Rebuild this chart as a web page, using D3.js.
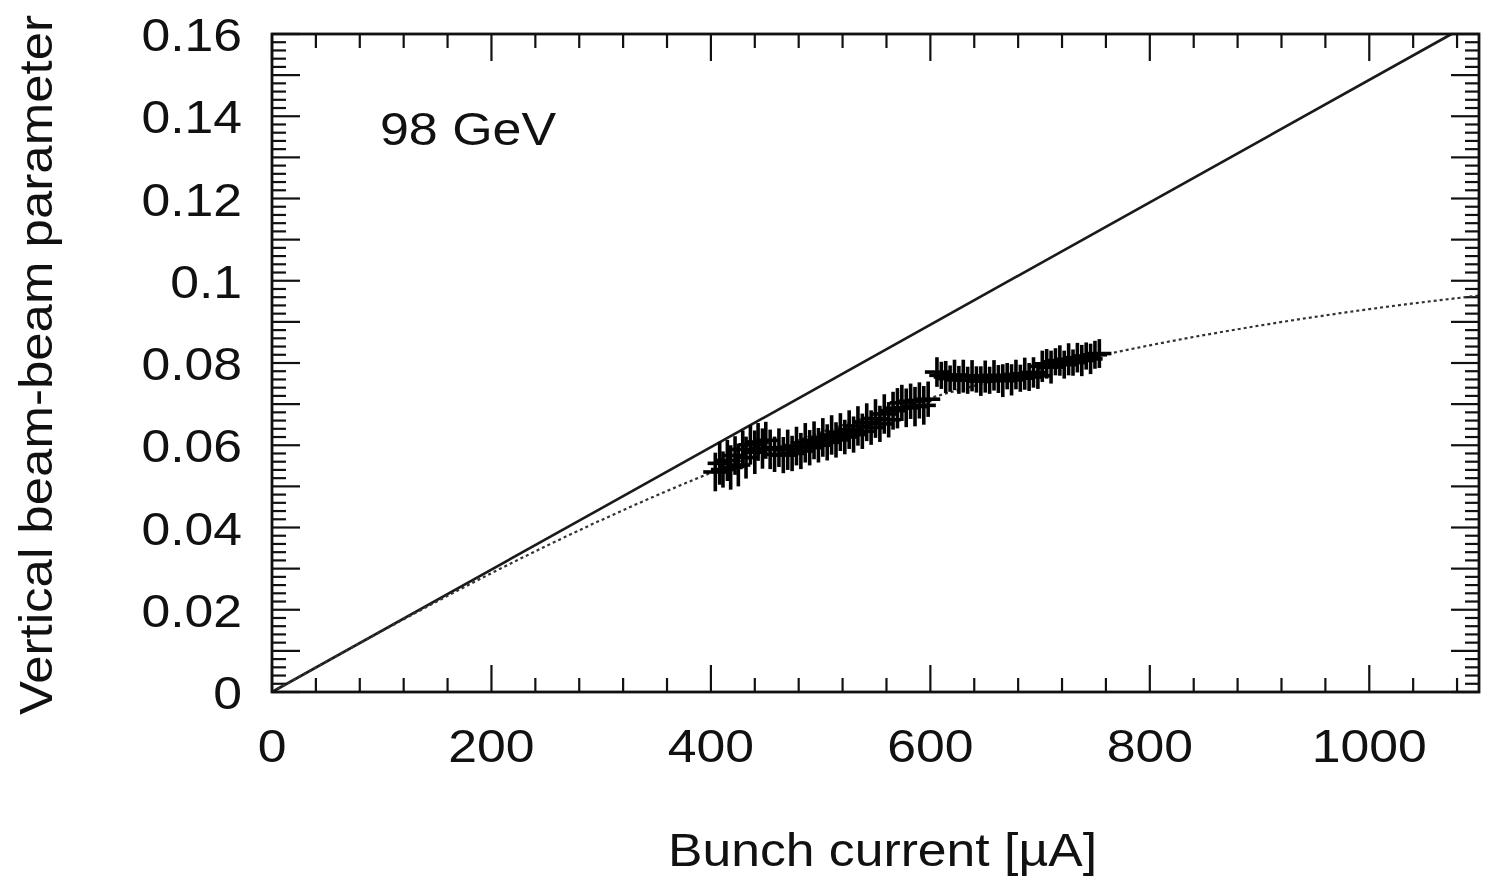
<!DOCTYPE html>
<html>
<head>
<meta charset="utf-8">
<script src="https://cdn.jsdelivr.net/npm/d3@7"></script>
<style>
  body { margin: 0; background: #fff; }
  text { font-family: "Liberation Sans", Arial, Helvetica, sans-serif; fill: #111; }
</style>
</head>
<body>
<div id="chart"></div>
<script>
// measured points: bunch current [uA], beam-beam parameter, error on it
var current = [404, 408, 411, 415, 418, 422, 425, 429, 432, 436, 440, 443, 447, 450, 454, 458, 462, 466, 470, 474,
    478, 482, 486, 490, 494, 498, 502, 506, 510, 514, 518, 522, 526, 530, 534, 538, 542, 546, 550, 554,
    558, 562, 566, 570, 574, 578, 582, 586, 590, 594, 598,
    606, 610, 614, 618, 622, 626, 630, 634, 638, 642, 646, 650, 654, 658, 662, 666, 670, 674, 678,
    682, 686, 690, 694, 698, 702, 706, 710, 714, 718, 722, 726, 730, 734, 738, 742, 746, 750, 754];
var xi = [0.0535, 0.0556, 0.0541, 0.0563, 0.0546, 0.0575, 0.0552, 0.0590, 0.0570, 0.0601, 0.0583, 0.0608, 0.0592, 0.0612,
    0.0590, 0.0578, 0.0594, 0.0576, 0.0589, 0.0580, 0.0598, 0.0586, 0.0606, 0.0594, 0.0612, 0.0600, 0.0619, 0.0607,
    0.0625, 0.0613, 0.0632, 0.0620, 0.0638, 0.0626, 0.0647, 0.0634, 0.0656, 0.0643, 0.0665, 0.0652, 0.0676, 0.0662,
    0.0684, 0.0690, 0.0703, 0.0691, 0.0707, 0.0694, 0.0709, 0.0697, 0.0712,
    0.0778, 0.0770, 0.0766, 0.0762, 0.0771, 0.0759, 0.0768, 0.0758, 0.0769, 0.0760, 0.0756, 0.0767, 0.0758, 0.0770,
    0.0761, 0.0757, 0.0768, 0.0759, 0.0772, 0.0763, 0.0774, 0.0766, 0.0777, 0.0769, 0.0792, 0.0798, 0.0790, 0.0803,
    0.0806, 0.0796, 0.0809, 0.0801, 0.0813, 0.0806, 0.0817, 0.0810, 0.0820, 0.0823];
var xiErr = [0.0047, 0.0052, 0.0044, 0.0050, 0.0054, 0.0047, 0.0052, 0.0046, 0.0051, 0.0048,
    0.0053, 0.0046, 0.0049, 0.0045, 0.0048, 0.0043, 0.0047, 0.0044, 0.0049, 0.0043,
    0.0047, 0.0044, 0.0048, 0.0043, 0.0046, 0.0042, 0.0047, 0.0044, 0.0048, 0.0043,
    0.0046, 0.0042, 0.0047, 0.0044, 0.0048, 0.0043, 0.0046, 0.0042, 0.0047, 0.0044,
    0.0048, 0.0043, 0.0046, 0.0049, 0.0044, 0.0047, 0.0043, 0.0048, 0.0044, 0.0047, 0.0043,
    0.0036, 0.0033, 0.0039, 0.0032, 0.0037, 0.0034, 0.0040, 0.0033, 0.0038, 0.0032,
    0.0036, 0.0039, 0.0033, 0.0037, 0.0034, 0.0040, 0.0032, 0.0038, 0.0036, 0.0033,
    0.0039, 0.0034, 0.0037, 0.0032, 0.0038, 0.0036, 0.0040, 0.0033, 0.0037, 0.0034,
    0.0039, 0.0032, 0.0036, 0.0038, 0.0033, 0.0037, 0.0034, 0.0035];
var currentErr = 11;

// linear expectation (solid) and saturating fit (dotted)
var linearCurrent = [0, 1075];
var linearXi = [0, 0.16];
var fitCurrent = [0, 100, 200, 300, 400, 500, 600, 700, 800, 900, 1000, 1100];
var fitXi = [0, 0.0148, 0.0289, 0.0418, 0.0533, 0.0631, 0.0715, 0.0785, 0.0843, 0.0891, 0.0931, 0.0964];

var xTickLabels = [0, 200, 400, 600, 800, 1000];
var yTickLabels = [0, 0.02, 0.04, 0.06, 0.08, 0.1, 0.12, 0.14, 0.16];

var width = 1485, height = 883;
var svg = d3.select("#chart").append("svg")
    .attr("width", width)
    .attr("height", height);

var x = d3.scaleLinear().domain([0, 1100]).range([272, 1479]);
var y = d3.scaleLinear().domain([0, 0.16]).range([692, 34]);

var fs = 47, stretch = 1.1;

// ticks on all four sides, pointing inward
var xMinor = d3.range(0, 1100 + 1, 40).filter(function (d) { return d % 200 != 0; });
var xMajor = d3.range(0, 1100 + 1, 200);
var yMinor = d3.range(0, 81).map(function (i) { return i * 0.002; }).filter(function (d, i) { return i % 5 != 0; });
var yMajor = d3.range(0, 17).map(function (i) { return i * 0.01; });

var ticks = svg.append("g").attr("stroke", "#111").attr("stroke-width", 2.2);
function xTicks(vals, len) {
    vals.forEach(function (v) {
        ticks.append("line").attr("x1", x(v)).attr("x2", x(v)).attr("y1", y(0)).attr("y2", y(0) - len);
        ticks.append("line").attr("x1", x(v)).attr("x2", x(v)).attr("y1", y(0.16)).attr("y2", y(0.16) + len);
    });
}
function yTicks(vals, len) {
    vals.forEach(function (v) {
        ticks.append("line").attr("x1", x(0)).attr("x2", x(0) + len).attr("y1", y(v)).attr("y2", y(v));
        ticks.append("line").attr("x1", x(1100)).attr("x2", x(1100) - len).attr("y1", y(v)).attr("y2", y(v));
    });
}
xTicks(xMinor, 14);
xTicks(xMajor, 27);
yTicks(yMinor, 14);
yTicks(yMajor, 28);

// solid line
var line = d3.line()
    .x(function (d) { return x(d[0]); })
    .y(function (d) { return y(d[1]); });
svg.append("path")
    .datum(d3.zip(linearCurrent, linearXi))
    .attr("d", line)
    .attr("fill", "none")
    .attr("stroke", "#1a1a1a")
    .attr("stroke-width", 2.6);

// dotted fit
svg.append("path")
    .datum(d3.zip(fitCurrent, fitXi))
    .attr("d", line.curve(d3.curveMonotoneX))
    .attr("fill", "none")
    .attr("stroke", "#333")
    .attr("stroke-width", 2.2)
    .attr("stroke-dasharray", "3,3");

// data crosses
var pts = svg.append("g").attr("stroke", "#000").attr("stroke-width", 3.6);
current.forEach(function (c, i) {
    var e = xiErr[i] || 0.0035;
    pts.append("line")
        .attr("x1", x(c - currentErr)).attr("x2", x(c + currentErr))
        .attr("y1", y(xi[i])).attr("y2", y(xi[i]));
    pts.append("line")
        .attr("x1", x(c)).attr("x2", x(c))
        .attr("y1", y(xi[i] - e)).attr("y2", y(xi[i] + e));
});

// frame
svg.append("rect")
    .attr("x", x(0)).attr("y", y(0.16))
    .attr("width", x(1100) - x(0)).attr("height", y(0) - y(0.16))
    .attr("fill", "none")
    .attr("stroke", "#111")
    .attr("stroke-width", 2.8);

// tick labels
svg.append("g").selectAll("text")
    .data(xTickLabels)
    .enter().append("text")
    .attr("transform", function (d) { return "translate(" + x(d) + ",762) scale(" + stretch + ",1)"; })
    .attr("text-anchor", "middle")
    .style("font-size", fs + "px")
    .text(function (d) { return d; });

svg.append("g").selectAll("text")
    .data(yTickLabels)
    .enter().append("text")
    .attr("transform", function (d) { return "translate(242," + (y(d) + 17) + ") scale(" + stretch + ",1)"; })
    .attr("text-anchor", "end")
    .style("font-size", fs + "px")
    .text(function (d) { return d; });

// titles
svg.append("text")
    .attr("x", 668).attr("y", 866)
    .attr("textLength", 429)
    .attr("lengthAdjust", "spacingAndGlyphs")
    .style("font-size", "46px")
    .text("Bunch current [\u00b5A]");

svg.append("text")
    .attr("transform", "translate(52,715) rotate(-90)")
    .attr("textLength", 700)
    .attr("lengthAdjust", "spacingAndGlyphs")
    .style("font-size", "46px")
    .text("Vertical beam-beam parameter");

svg.append("text")
    .attr("x", 380).attr("y", 145)
    .attr("textLength", 176)
    .attr("lengthAdjust", "spacingAndGlyphs")
    .style("font-size", fs + "px")
    .text("98 GeV");
</script>
</body>
</html>
